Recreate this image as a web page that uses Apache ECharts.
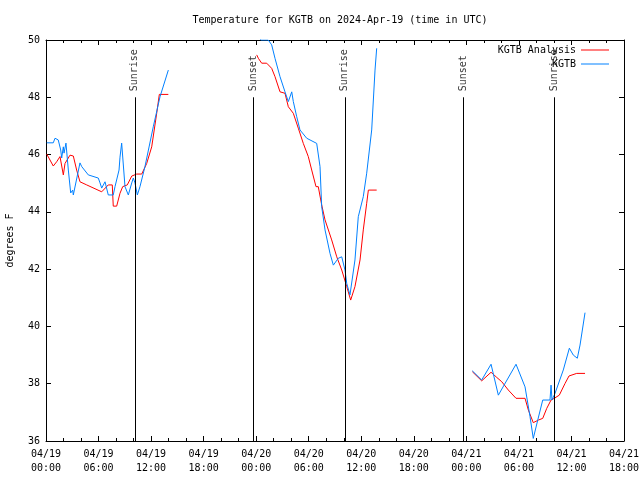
<!DOCTYPE html>
<html>
<head>
<meta charset="utf-8">
<script src="https://cdn.jsdelivr.net/npm/echarts@6/dist/echarts.min.js"></script>
<style>html,body{margin:0;padding:0;background:#fff}#c{width:640px;height:480px}</style>
</head>
<body>
<div id="c"></div>
<script>
// hours since 2024-04-19 00:00 UTC
const obsHours = [0.08,0.83,1.03,1.40,1.68,1.79,1.98,2.06,2.28,2.55,2.82,3.05,3.12,3.88,4.08,4.83,5.97,6.17,6.36,6.74,7.11,7.68,7.88,8.34,8.45,8.64,9.02,9.40,9.79,9.97,10.16,10.43,10.73,11.30,12.25,13.02,13.97,
  null,
  24.10,24.52,25.38,25.77,26.15,26.72,27.29,27.67,28.06,28.24,28.63,29.00,29.77,30.91,31.09,31.29,31.48,31.86,32.43,32.81,33.38,33.77,34.14,34.34,34.71,35.28,35.66,36.23,36.62,37.19,37.57,37.76,
  null,
  48.68,49.75,50.82,51.65,53.67,54.70,55.27,55.64,56.15,56.72,57.55,57.67,57.78,58.12,59.07,59.76,60.21,60.67,60.98,61.55];
const obsTemps = [46.41,46.41,46.57,46.51,46.16,45.88,46.27,46.05,46.40,45.46,44.66,44.76,44.59,45.71,45.58,45.29,45.18,45.01,44.83,45.05,44.59,44.59,44.88,45.46,45.91,46.40,44.88,44.59,45.01,45.18,45.01,44.59,44.88,45.58,46.97,48.02,48.95,
  null,
  50.3,50.0,50.0,49.83,49.36,48.72,48.19,47.85,48.19,47.85,47.32,46.86,46.57,46.39,46.45,45.58,44.18,43.37,42.55,42.14,42.38,42.43,41.97,41.50,41.10,42.32,43.83,44.53,45.35,46.86,48.95,49.71,
  null,
  38.45,38.13,38.68,37.60,38.68,37.89,36.85,36.09,36.73,37.43,37.43,37.95,37.43,37.66,38.48,39.24,39.00,38.89,39.35,40.48];

const anaHours = [0.08,0.27,0.83,1.22,1.60,1.98,2.17,2.74,3.12,3.50,3.88,4.65,6.36,7.11,7.57,7.68,8.07,8.45,8.76,9.28,9.79,10.36,10.93,11.50,12.07,12.64,12.94,13.97,
  null,
  24.06,24.25,24.63,25.20,25.77,26.15,26.72,27.29,27.67,28.24,28.81,29.38,29.95,30.34,30.83,31.09,31.48,31.86,32.05,32.62,33.20,33.77,34.34,34.79,35.28,35.86,36.23,36.62,36.81,37.76,
  null,
  48.68,49.75,50.82,51.47,52.04,52.79,53.67,54.70,55.08,55.64,56.22,56.72,57.18,57.67,58.04,58.61,59.27,59.72,60.60,61.55];
const anaTemps = [46.02,46.02,45.60,45.75,45.93,45.29,45.69,45.98,45.95,45.46,45.05,44.94,44.70,44.94,44.94,44.20,44.20,44.65,44.88,44.94,45.25,45.32,45.32,45.69,46.27,47.44,48.10,48.10,
  null,
  49.48,49.36,49.19,49.19,49.01,48.72,48.19,48.14,47.67,47.44,46.92,46.39,45.93,45.46,44.88,44.88,44.24,43.72,43.66,43.02,42.43,41.97,41.39,40.92,41.39,42.32,43.37,44.30,44.76,44.76,
  null,
  38.42,38.10,38.40,38.22,38.07,37.78,37.49,37.49,37.08,36.64,36.73,36.79,37.14,37.43,37.49,37.60,38.01,38.27,38.36,38.36];

const sunHours = [10.15, 23.67, 34.12, 47.65, 58.0];
const sunLabels = ['Sunrise', 'Sunset', 'Sunrise', 'Sunset', 'Sunrise'];

const xMin = 0, xMax = 66, xStep = 6;
const yMin = 36, yMax = 50, yStep = 2;
const sunTop = 48;

const FONT = 'DejaVu Sans Mono';
function pairs(xs, ys) {
  return xs.map((x, i) => (x === null ? '-' : [x, ys[i]]));
}
function xLabel(v) {
  const day = 19 + Math.floor(v / 24);
  const hh = v % 24;
  return '04/' + day + '\n' + String(hh).padStart(2, '0') + ':00';
}

const chart = echarts.init(document.getElementById('c'), null, {renderer: 'canvas'});
const axisCommon = {
  axisLine: {show: true, onZero: false, lineStyle: {color: '#000', width: 1}},
  splitLine: {show: false},
};
chart.setOption({
  animation: false,
  backgroundColor: '#fff',
  title: {
    text: 'Temperature for KGTB on 2024-Apr-19 (time in UTC)',
    left: 335, top: 10, textAlign: 'center',
    textStyle: {fontFamily: FONT, fontSize: 10, fontWeight: 'normal', color: '#000'}
  },
  legend: {
    orient: 'vertical', right: 26, top: 39, align: 'right',
    itemWidth: 28, itemHeight: 1, itemGap: 2, icon: 'rect',
    textStyle: {fontFamily: FONT, fontSize: 10, color: '#000', lineHeight: 12},
    data: ['KGTB Analysis', 'KGTB']
  },
  grid: {left: 46, right: 16, top: 40, bottom: 39, containLabel: false, outerBoundsMode: 'none'},
  xAxis: [
    Object.assign({}, axisCommon, {
      type: 'value', min: xMin, max: xMax, interval: xStep, position: 'bottom',
      axisTick: {show: true, inside: true, length: 5, lineStyle: {color: '#000'}},
      minorTick: {show: true, splitNumber: 3, length: 3, lineStyle: {color: '#000'}},
      axisLabel: {formatter: xLabel, margin: 6, lineHeight: 14, color: '#000', fontFamily: FONT, fontSize: 10}
    }),
    Object.assign({}, axisCommon, {
      type: 'value', min: xMin, max: xMax, interval: xStep, position: 'top',
      axisTick: {show: true, inside: true, length: 5, lineStyle: {color: '#000'}},
      minorTick: {show: true, splitNumber: 3, length: 3, lineStyle: {color: '#000'}},
      axisLabel: {show: false}
    })
  ],
  yAxis: [
    Object.assign({}, axisCommon, {
      type: 'value', min: yMin, max: yMax, interval: yStep, position: 'left',
      name: 'degrees F', nameLocation: 'middle', nameRotate: 90, nameGap: 31,
      nameTextStyle: {fontFamily: FONT, fontSize: 10, color: '#000'},
      axisTick: {show: true, inside: true, length: 5, lineStyle: {color: '#000'}},
      axisLabel: {margin: 6, color: '#000', fontFamily: FONT, fontSize: 10}
    }),
    Object.assign({}, axisCommon, {
      type: 'value', min: yMin, max: yMax, interval: yStep, position: 'right',
      axisTick: {show: true, inside: true, length: 5, lineStyle: {color: '#000'}},
      axisLabel: {show: false}
    })
  ],
  series: [
    {
      name: 'KGTB Analysis', type: 'line', data: pairs(anaHours, anaTemps),
      showSymbol: false, symbol: 'none', connectNulls: false,
      lineStyle: {color: '#ff0000', width: 1}, itemStyle: {color: '#ff0000'}, z: 3
    },
    {
      name: 'KGTB', type: 'line', data: pairs(obsHours, obsTemps),
      showSymbol: false, symbol: 'none', connectNulls: false,
      lineStyle: {color: '#0080ff', width: 1}, itemStyle: {color: '#0080ff'}, z: 4
    },
    {
      name: 'sun', type: 'scatter', symbolSize: 0, silent: true, z: 5,
      data: sunHours.map(h => [h, sunTop]),
      label: {
        show: true, position: 'top', distance: 6, rotate: 90, align: 'left', verticalAlign: 'middle',
        formatter: p => sunLabels[p.dataIndex],
        fontFamily: FONT, fontSize: 10, color: '#000'
      },
      markLine: {
        silent: true, symbol: 'none', animation: false,
        label: {show: false},
        lineStyle: {color: '#000', width: 1, type: 'solid'},
        data: sunHours.map(h => [{coord: [h, yMin]}, {coord: [h, sunTop]}])
      }
    }
  ]
});
</script>
</body>
</html>
